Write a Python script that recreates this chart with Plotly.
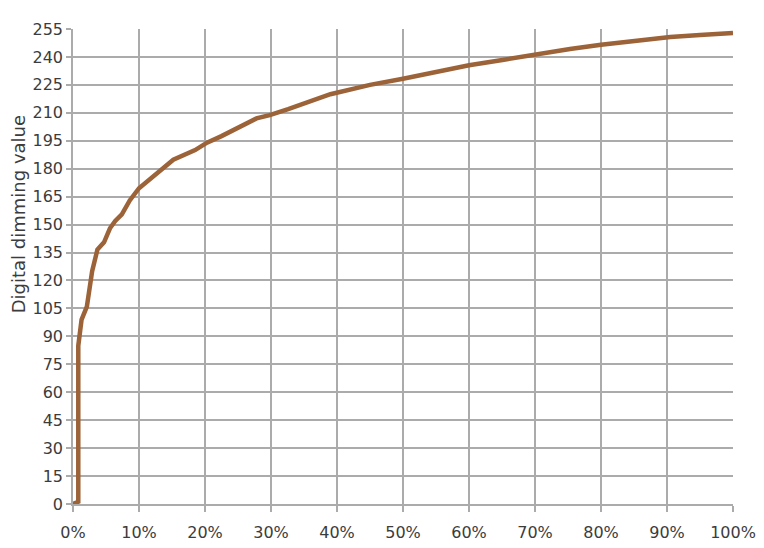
import plotly.graph_objects as go

# Fraction of full brightness (x) vs digital dimming value (y)
brightness = [0.0, 0.008, 0.008, 0.010, 0.013, 0.021, 0.026, 0.029, 0.037, 0.047, 0.056,
              0.064, 0.074, 0.086, 0.100, 0.117, 0.136, 0.152, 0.185, 0.203, 0.225,
              0.250, 0.278, 0.298, 0.326, 0.390, 0.450, 0.500, 0.556, 0.600, 0.653,
              0.703, 0.753, 0.800, 0.853, 0.886, 0.905, 0.950, 1.0]
dimming = [0, 1.2, 85, 93, 99, 106, 119.5, 125, 136.6, 140.5, 148,
           152, 155.5, 163, 169.5, 174.5, 179.5, 184.8, 190, 194, 197.5,
           201.7, 207, 208.8, 212, 220, 225, 228.3, 232.5, 235.5, 238.5,
           241.7, 244.3, 246.5, 248.6, 250.2, 250.7, 251.8, 252.9]

y_ticks = list(range(0, 256, 15))
x_ticks = [i / 10 for i in range(11)]
y_title = "Digital dimming value"

fig = go.Figure()
fig.add_trace(go.Scatter(
    x=brightness, y=dimming, mode="lines",
    line=dict(color="#9c6238", width=4.5),
    hoverinfo="skip", showlegend=False,
))

grid = "#ababab"
fig.update_layout(
    width=764, height=548,
    margin=dict(l=65, r=39, t=18, b=52),
    paper_bgcolor="white", plot_bgcolor="white",
    font=dict(family="DejaVu Sans, sans-serif", size=16, color="#3c3c3c"),
    xaxis=dict(range=[0, 1], tickvals=x_ticks, tickformat=".0%",
               showgrid=True, gridcolor=grid, gridwidth=1.5,
               showline=True, linecolor=grid, linewidth=1.5,
               ticks="outside", ticklen=6, tickcolor=grid, tickwidth=1.5,
               ticklabelstandoff=7,
               zeroline=False, fixedrange=True),
    yaxis=dict(range=[0, 255], tickvals=y_ticks,
               showgrid=True, gridcolor=grid, gridwidth=1.5,
               showline=True, linecolor=grid, linewidth=1.5,
               ticks="outside", ticklen=5, tickcolor=grid, tickwidth=1.5,
               zeroline=False, fixedrange=True),
    annotations=[dict(text=y_title, textangle=-90, showarrow=False,
                      xref="paper", yref="paper", x=-0.0833, y=0.61,
                      xanchor="center", yanchor="middle",
                      font=dict(size=18, color="#3c3c3c"))],
)

fig.write_html("out.html")
